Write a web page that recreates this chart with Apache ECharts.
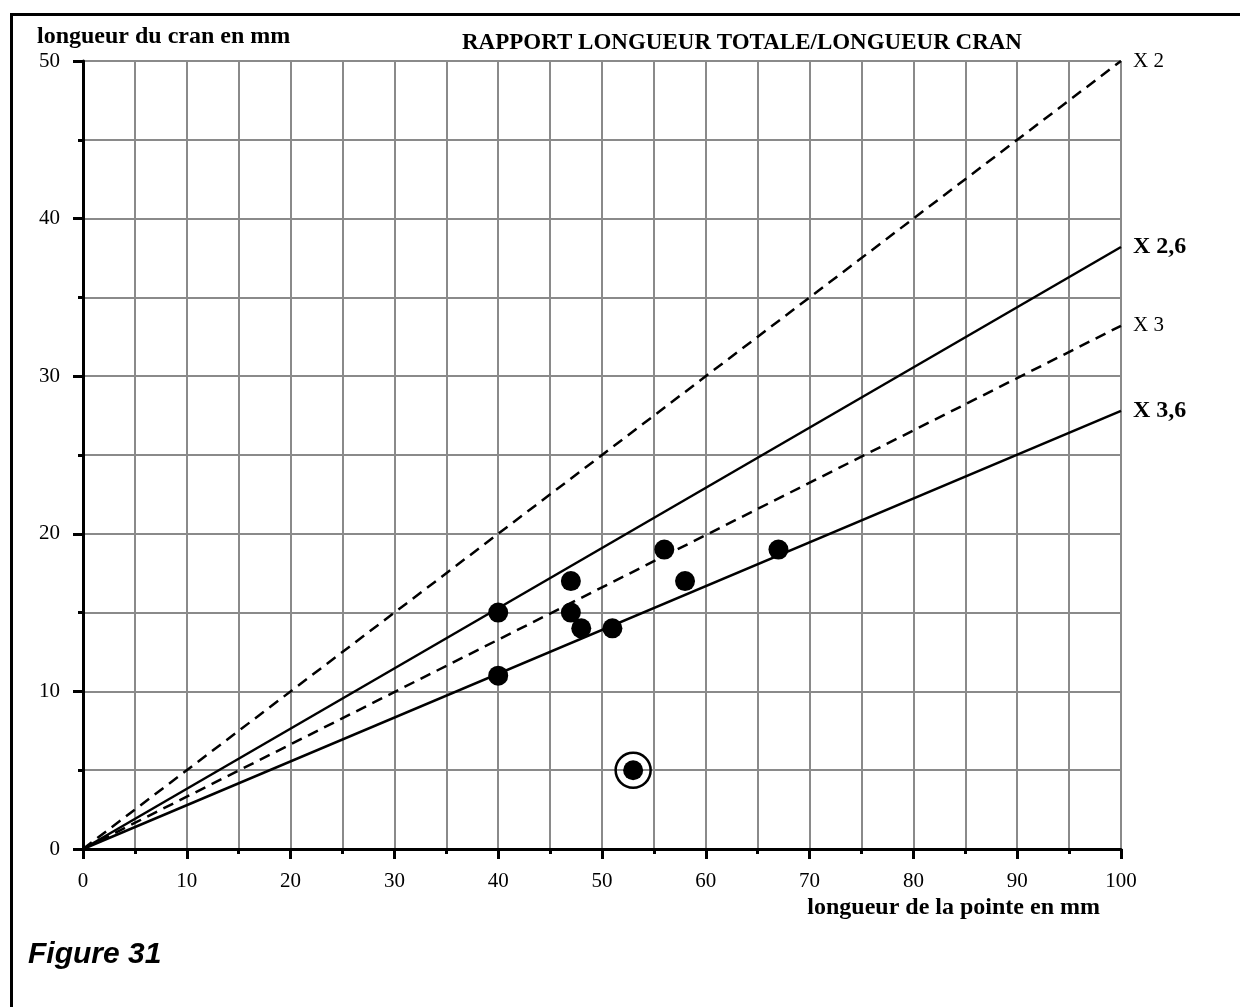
<!DOCTYPE html>
<html>
<head>
<meta charset="utf-8">
<script src="https://cdn.jsdelivr.net/npm/echarts@6/dist/echarts.min.js"></script>
<style>html,body{margin:0;padding:0;background:#fff;}#c{width:1240px;height:1007px;}</style>
</head>
<body>
<div id="c"></div>
<script>
// ---- data ----
const titleText = 'RAPPORT LONGUEUR TOTALE/LONGUEUR CRAN';
const xName = 'longueur de la pointe en mm';
const yName = 'longueur du cran en mm';
const figLabel = 'Figure 31';
const ratioNames = ['X 2', 'X 2,6', 'X 3', 'X 3,6'];
const ratioDashed = [true, false, true, false];
const ratioBold = [false, true, false, true];
const ratioStartX = [0, 0, 0, 0];
const ratioStartY = [0, 0, 0, 0];
const ratioEndX = [100, 100, 100, 100];
const ratioEndY = [50, 38.2, 33.2, 27.8];
const pointX = [40, 40, 47, 47, 48, 51, 56, 58, 67];
const pointY = [15, 11, 17, 15, 14, 14, 19, 17, 19];
const circledX = [53];
const circledY = [5];

const SERIF = '"Liberation Serif", "Times New Roman", serif';
const GRID = '#8a8a8a';

function axisCommon() {
  return {
    type: 'value',
    interval: 10,
    axisLine: { show: true, onZero: false, lineStyle: { color: '#000', width: 3 } },
    axisTick: { show: true, inside: false, length: 10, lineStyle: { color: '#000', width: 3 } },
    minorTick: { show: true, splitNumber: 2, length: 5, lineStyle: { color: '#000', width: 3 } },
    splitLine: { show: true, showMinLine: false, lineStyle: { color: GRID, width: 2 } },
    minorSplitLine: { show: true, lineStyle: { color: GRID, width: 2 } },
    axisLabel: { color: '#000', fontFamily: SERIF, fontSize: 21 }
  };
}

const xAxis = Object.assign(axisCommon(), { min: 0, max: 100 });
xAxis.axisLabel = Object.assign({}, xAxis.axisLabel, { margin: 22 });
const yAxis = Object.assign(axisCommon(), { min: 0, max: 50 });
yAxis.axisLabel = Object.assign({}, yAxis.axisLabel, { margin: 23 });

const series = [];
ratioNames.forEach((n, i) => {
  series.push({
    type: 'line',
    name: n,
    data: [[ratioStartX[i], ratioStartY[i]], [ratioEndX[i], ratioEndY[i]]],
    showSymbol: false,
    symbol: 'none',
    silent: true,
    z: 5,
    lineStyle: { color: '#000', width: 2.5, type: ratioDashed[i] ? [11, 7] : 'solid' },
    endLabel: {
      show: true,
      formatter: n,
      distance: 12,
      color: '#000',
      fontFamily: SERIF,
      fontSize: ratioBold[i] ? 24 : 21,
      fontWeight: ratioBold[i] ? 'bold' : 'normal'
    }
  });
});
series.push({
  type: 'scatter',
  name: 'points',
  data: pointX.map((x, i) => [x, pointY[i]]),
  symbol: 'circle',
  symbolSize: 20,
  itemStyle: { color: '#000', opacity: 1 },
  z: 6
});
series.push({
  type: 'scatter',
  name: 'circled',
  data: circledX.map((x, i) => [x, circledY[i]]),
  symbol: 'circle',
  symbolSize: 20,
  itemStyle: { color: '#000', opacity: 1 },
  z: 6
});
series.push({
  type: 'scatter',
  name: 'ring',
  data: circledX.map((x, i) => [x, circledY[i]]),
  symbol: 'circle',
  symbolSize: 35,
  itemStyle: { color: 'rgba(0,0,0,0)', borderColor: '#000', borderWidth: 2.5, opacity: 1 },
  z: 6
});

const chart = echarts.init(document.getElementById('c'), null, { renderer: 'canvas' });
chart.setOption({
  backgroundColor: '#fff',
  animation: false,
  grid: { left: 83, right: 119, top: 61, bottom: 158, containLabel: false },
  xAxis: xAxis,
  yAxis: yAxis,
  series: series,
  graphic: [
    { type: 'rect', left: 9, top: 12, z: 0, silent: true,
      shape: { width: 1300, height: 1100 },
      style: { fill: 'none', stroke: '#000', lineWidth: 3 } },
    { type: 'text', left: 37, top: 25, z: 10,
      style: { text: yName, fill: '#000', font: 'bold 24px ' + SERIF } },
    { type: 'text', left: 462, top: 32, z: 10,
      style: { text: titleText, fill: '#000', font: 'bold 23px ' + SERIF } },
    { type: 'text', right: 1240 - 1100, top: 896, z: 10,
      style: { text: xName, fill: '#000', font: 'bold 24px ' + SERIF } },
    { type: 'text', left: 28, top: 940, z: 10,
      style: { text: figLabel, fill: '#000', font: 'italic bold 30px "Liberation Sans", Arial, sans-serif' } }
  ]
});
</script>
</body>
</html>
